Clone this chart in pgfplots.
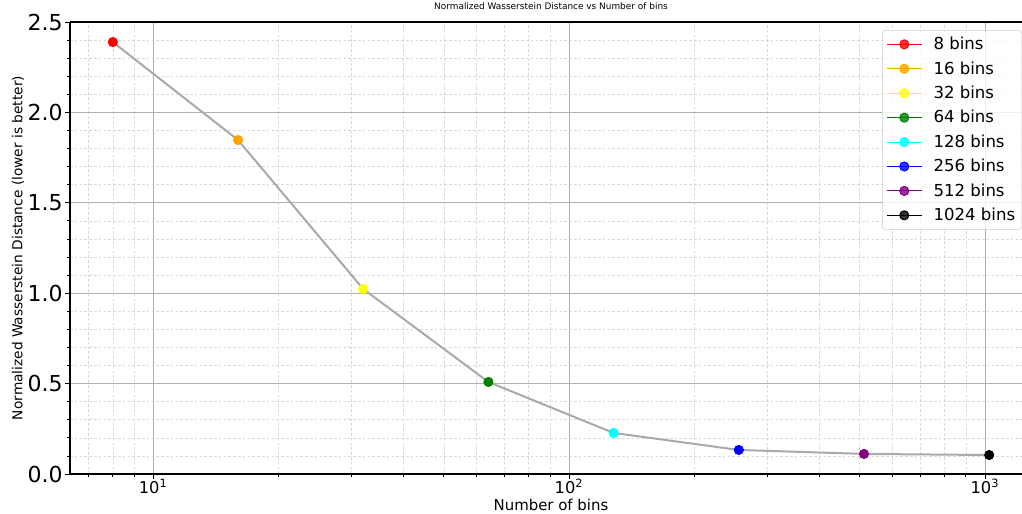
\documentclass[border=0pt]{standalone}
\usepackage{pgfplots}
\pgfplotsset{compat=1.18}
\usepackage{fontspec}
\setmainfont{DejaVu Sans}
\definecolor{mplorange}{HTML}{FFA500}
\definecolor{mplyellow}{HTML}{FFFF00}
\definecolor{mplgreen}{HTML}{008000}
\definecolor{mplcyan}{HTML}{00FFFF}
\definecolor{mplblue}{HTML}{0000FF}
\definecolor{mplpurple}{HTML}{800080}
\definecolor{mplred}{HTML}{FF0000}
\definecolor{linegray}{HTML}{A9A9A9}
\definecolor{majgrid}{HTML}{B0B0B0}
\definecolor{mingrid}{HTML}{D8D8D8}
\definecolor{legedge}{HTML}{CCCCCC}
\begin{document}
\begin{tikzpicture}
\begin{axis}[
  scale only axis,
  width=714pt, height=339pt,
  xmode=log,
  xmin=6.31, xmax=1228,
  ymin=0, ymax=2.5,
  axis x line=box,
  axis y line=left,
  axis line style={-, black, line width=0.8pt},
  xtick={10,100,1000},
  xticklabels={10\textsuperscript{1},10\textsuperscript{2},10\textsuperscript{3}},
  minor xtick={7,8,9,20,30,40,50,60,70,80,90,200,300,400,500,600,700,800,900},
  ytick={0,0.5,1,1.5,2,2.5},
  minor ytick={0.1,0.2,0.3,0.4,0.6,0.7,0.8,0.9,1.1,1.2,1.3,1.4,1.6,1.7,1.8,1.9,2.1,2.2,2.3,2.4},
  yticklabel style={/pgf/number format/fixed, /pgf/number format/fixed zerofill, /pgf/number format/precision=1, /pgf/number format/assume math mode=true, font=\fontsize{16.5}{18}\selectfont, xshift=1.5pt},
  xticklabel style={font=\fontsize{12.2}{14}\selectfont, yshift=3pt},
  tick align=outside,
  xtick pos=bottom,
  ytick pos=left,
  major tick length=3.6pt,
  minor tick length=2pt,
  every tick/.style={black, line width=0.6pt},
  grid=both,
  major grid style={majgrid, line width=0.6pt},
  minor grid style={mingrid, line width=0.45pt, dash pattern=on 2pt off 1.6pt},
  every axis x label/.style={at={(rel axis cs:0,0)}, anchor=center, xshift=360.75pt, yshift=-23pt, font=\fontsize{11.2}{13}\selectfont},
  every axis y label/.style={at={(rel axis cs:0,0.5)}, rotate=90, anchor=center, yshift=39pt, font=\fontsize{10.3}{12}\selectfont},
  title style={at={(rel axis cs:0,1)}, anchor=base, xshift=360.75pt, yshift=3.6pt, font=\fontsize{6.7}{8}\selectfont},
  xlabel={Number of bins},
  ylabel={Normalized Wasserstein Distance (lower is better)},
  title={Normalized Wasserstein Distance vs Number of bins},
  legend cell align=left,
  legend style={at={(rel axis cs:0.853,0.982)}, anchor=north west, draw=legedge, rounded corners=2pt, fill=white, fill opacity=0.8, text opacity=1, font=\fontsize{12.4}{14}\selectfont, row sep=3.4pt, inner sep=3pt},
  legend image code/.code={\draw[mark repeat=2, mark phase=2, #1] plot coordinates {(0cm,0cm) (0.46cm,0cm) (0.92cm,0cm)}; \path (1.15cm,0cm);},
]
\coordinate (sw) at (rel axis cs:0,0);
\addplot[mplred, line width=0.75pt, mark=*, mark size=3.4pt, mark options={solid, fill=mplred, draw=mplred}] coordinates {(8,2.389)};
\addlegendentry{8 bins}
\addplot[mplorange, line width=0.75pt, mark=*, mark size=3.4pt, mark options={solid, fill=mplorange, draw=mplorange}] coordinates {(16,1.847)};
\addlegendentry{16 bins}
\addplot[mplyellow, line width=0.75pt, mark=*, mark size=3.4pt, mark options={solid, fill=mplyellow, draw=mplyellow}] coordinates {(32,1.023)};
\addlegendentry{32 bins}
\addplot[mplgreen, line width=0.75pt, mark=*, mark size=3.4pt, mark options={solid, fill=mplgreen, draw=mplgreen}] coordinates {(64,0.509)};
\addlegendentry{64 bins}
\addplot[mplcyan, line width=0.75pt, mark=*, mark size=3.4pt, mark options={solid, fill=mplcyan, draw=mplcyan}] coordinates {(128,0.227)};
\addlegendentry{128 bins}
\addplot[mplblue, line width=0.75pt, mark=*, mark size=3.4pt, mark options={solid, fill=mplblue, draw=mplblue}] coordinates {(256,0.133)};
\addlegendentry{256 bins}
\addplot[mplpurple, line width=0.75pt, mark=*, mark size=3.4pt, mark options={solid, fill=mplpurple, draw=mplpurple}] coordinates {(512,0.111)};
\addlegendentry{512 bins}
\addplot[black, line width=0.75pt, mark=*, mark size=3.4pt, mark options={solid, fill=black, draw=black}] coordinates {(1024,0.105)};
\addlegendentry{1024 bins}
\addplot[linegray, line width=1.5pt, forget plot] coordinates {
(8,2.389) (16,1.847) (32,1.023) (64,0.509) (128,0.227) (256,0.133) (512,0.111) (1024,0.105)};
\end{axis}
\pgfresetboundingbox
\useasboundingbox ([xshift=-52.5pt,yshift=-30pt]sw) rectangle ++(766.5pt,385.5pt);
\end{tikzpicture}
\end{document}
